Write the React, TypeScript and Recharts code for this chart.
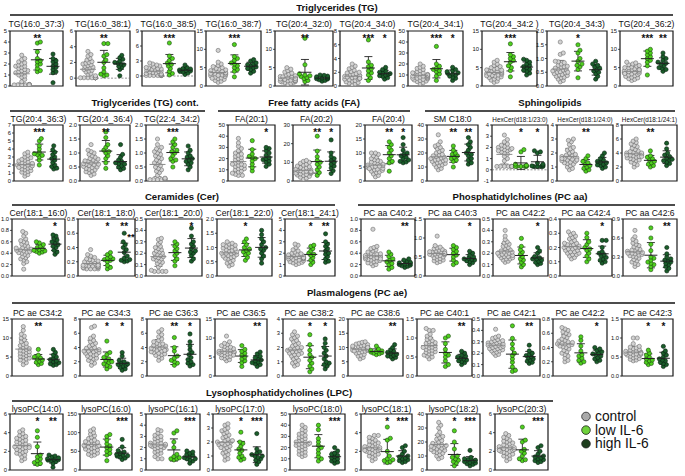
import React from "react";
import { ScatterChart, Scatter, XAxis, YAxis, ErrorBar, ReferenceArea, ReferenceLine } from "recharts";

const FONT = '"Liberation Sans", Arial, sans-serif';

// ---------- Triglycerides (TG) ----------
const TG_TITLES = ["TG(16:0_37:3)", "TG(16:0_38:1)", "TG(16:0_38:5)", "TG(16:0_38:7)", "TG(20:4_32:0)", "TG(20:4_34:0)", "TG(20:4_34:1)", "TG(20:4_34:2 )", "TG(20:4_34:3)", "TG(20:4_36:2)"];
const TG_TICKS = [[0, 1, 2, 3, 4, 5], [0, 2, 4, 6], [0, 3, 6, 9], [0, 5, 10, 15], [0, 5, 10, 15], [0, 2, 4, 6, 8], [0, 10, 20, 30, 40, 50], [0, 5, 10, 15], [0, 0.5, 1, 1.5, 2], [0, 5, 10, 15]];
const TG_CTRL = [
  [0.1, 0.1, 0.1, 0.1, 0.12, 0.1, 0.1, 0.1, 0.15, 0.1, 0.4, 0.6, 0.8, 0.9, 1.0, 1.1, 1.2, 1.2, 1.3, 1.4, 1.4, 1.5, 1.6, 1.7, 1.8, 1.8, 1.9, 2.0, 2.1, 2.2, 2.4, 2.5, 2.8],
  [0.05, 0.05, 0.05, 0.05, 0.05, 0.05, 0.05, 0.05, 0.05, 0.05, 0.3, 0.5, 0.6, 0.8, 0.9, 1.0, 1.1, 1.2, 1.3, 1.4, 1.5, 1.6, 1.7, 1.8, 1.9, 2.0, 2.1, 2.3, 2.5, 2.8, 3.0, 3.4],
  [0.1, 0.1, 0.1, 0.1, 0.1, 0.1, 0.1, 0.1, 0.3, 0.4, 0.5, 0.6, 0.7, 0.8, 0.9, 1.0, 1.1, 1.2, 1.3, 1.4, 1.5, 1.6, 1.7, 1.8, 2.0, 2.2, 2.4, 2.6],
  [1.0, 1.3, 1.5, 1.8, 2.0, 2.2, 2.4, 2.6, 2.8, 3.0, 3.1, 3.3, 3.5, 3.6, 3.8, 4.0, 4.2, 4.4, 4.6, 4.8, 5.0, 5.3, 5.6, 6.0, 6.5, 9.7, 2.1, 2.9, 3.4, 3.9],
  [0.5, 0.7, 0.9, 1.0, 1.1, 1.2, 1.3, 1.4, 1.5, 1.6, 1.7, 1.8, 1.9, 2.0, 2.1, 2.2, 2.3, 2.4, 2.6, 2.8, 3.0, 3.2, 3.5, 3.8, 4.2, 4.6, 5.0, 1.5, 2.0, 2.5],
  [0.2, 0.3, 0.4, 0.5, 0.6, 0.7, 0.8, 0.9, 1.0, 1.0, 1.1, 1.2, 1.2, 1.3, 1.4, 1.5, 1.5, 1.6, 1.7, 1.8, 1.9, 2.0, 2.1, 2.3, 2.5, 2.7, 2.9, 3.2, 1.1, 1.3],
  [2, 3, 4, 4.5, 5, 5.5, 6, 6.5, 7, 7.5, 8, 8.5, 9, 9.5, 10, 10.5, 11, 11.5, 12, 13, 14, 15, 16, 17, 18, 20, 7, 9, 10, 12],
  [1.0, 1.3, 1.6, 1.9, 2.1, 2.3, 2.5, 2.7, 2.9, 3.0, 3.2, 3.4, 3.5, 3.7, 3.9, 4.0, 4.2, 4.4, 4.6, 4.8, 5.0, 5.3, 5.6, 6.0, 6.5, 7.0, 2.8, 3.3, 3.8, 4.3],
  [0.15, 0.2, 0.25, 0.3, 0.32, 0.35, 0.38, 0.4, 0.42, 0.45, 0.48, 0.5, 0.52, 0.55, 0.58, 0.6, 0.62, 0.65, 0.68, 0.7, 0.72, 0.75, 0.8, 0.85, 0.88, 0.9, 1.15, 1.2, 1.6, 0.5],
  [1.5, 1.8, 2.0, 2.2, 2.4, 2.6, 2.8, 3.0, 3.1, 3.3, 3.5, 3.6, 3.8, 4.0, 4.1, 4.3, 4.5, 4.7, 4.9, 5.0, 5.2, 5.4, 5.6, 5.8, 6.0, 6.3, 6.5, 3.4, 3.9, 4.4],
];
const TG_LOW = [
  [1.3, 1.4, 1.6, 1.9, 2.0, 2.2, 2.3, 2.5, 3.1, 3.9, 4.0],
  [0.3, 0.4, 0.5, 0.8, 1.3, 2.0, 2.3, 2.8, 3.0, 4.4, 4.4],
  [0.2, 0.5, 0.9, 1.5, 2.0, 2.3, 2.6, 3.1, 3.5, 4.0, 6.6],
  [2.5, 4.0, 4.5, 5.0, 5.5, 6.0, 6.3, 7.0, 7.5, 8.0, 11.3],
  [1.2, 1.5, 2.0, 2.3, 2.6, 2.8, 3.0, 3.3, 5.8, 13.0],
  [0.8, 1.2, 1.6, 1.9, 2.2, 2.5, 2.8, 3.0, 3.5, 6.7],
  [5, 9, 11, 13, 14, 15, 16, 18, 20, 36],
  [2.5, 4.2, 5.0, 5.5, 6.5, 7.0, 7.5, 8.0, 8.5, 11.5],
  [0.3, 0.6, 0.7, 0.75, 0.8, 0.9, 1.0, 1.2, 1.3, 1.5],
  [3.0, 5.5, 6.5, 7.0, 7.5, 8.0, 8.5, 9.0, 9.5, 10.0],
];
const TG_HIGH = [
  [0.3, 1.2, 1.3, 1.5, 1.7, 1.8, 2.0, 2.2, 2.3, 2.5, 2.9],
  [0.3, 1.1, 1.4, 1.5, 1.7, 1.8, 1.9, 2.0, 2.2, 2.4, 2.6, 2.9],
  [0.3, 0.6, 0.8, 0.9, 1.0, 1.1, 1.2, 1.4, 1.5, 1.7, 2.2],
  [3.5, 4.0, 4.5, 4.8, 5.0, 5.2, 5.5, 5.8, 6.0, 6.3, 6.8, 7.2],
  [1.3, 1.5, 1.7, 1.9, 2.0, 2.1, 2.2, 2.4, 2.5, 2.7, 2.9, 3.0],
  [1.0, 1.2, 1.4, 1.5, 1.6, 1.7, 1.8, 1.9, 2.0, 2.2, 2.4, 2.7],
  [5, 7, 8, 9, 10, 11, 11.5, 12, 13, 14, 15, 17],
  [3.0, 3.5, 4.0, 4.3, 4.6, 5.0, 5.3, 5.6, 6.0, 6.5, 7.0, 7.3],
  [0.25, 0.35, 0.45, 0.5, 0.55, 0.6, 0.65, 0.7, 0.75, 0.8, 0.9],
  [4.0, 4.5, 4.8, 5.0, 5.5, 6.0, 6.2, 6.5, 7.0, 7.5, 8.0, 9.0],
];
const TG_STARS = [["**", ""], ["**", ""], ["***", ""], ["***", ""], ["**", ""], ["***", "*"], ["***", "*"], ["***", ""], ["*", ""], ["***", "**"]];

// ---------- Triglycerides cont. ----------
const TGC_TITLES = ["TG(20:4_36:3)", "TG(20:4_36:4)", "TG(22:4_34:2)"];
const TGC_TICKS = [[0, 1, 2, 3, 4, 5, 6, 7], [0, 0.5, 1, 1.5, 2], [0, 0.5, 1, 1.5, 2]];
const TGC_CTRL = [
  [0.6, 0.8, 1.0, 1.1, 1.2, 1.3, 1.4, 1.5, 1.6, 1.7, 1.8, 1.9, 2.0, 2.0, 2.1, 2.2, 2.3, 2.4, 2.5, 2.6, 2.7, 2.8, 2.9, 3.0, 3.2, 3.4, 3.6, 1.9, 2.2, 1.7],
  [0.2, 0.25, 0.3, 0.33, 0.36, 0.4, 0.42, 0.45, 0.48, 0.5, 0.52, 0.55, 0.58, 0.6, 0.62, 0.65, 0.68, 0.7, 0.72, 0.75, 0.78, 0.8, 0.85, 0.9, 0.95, 1.0, 1.05, 1.1, 1.3, 0.6],
  [0.05, 0.05, 0.05, 0.05, 0.05, 0.08, 0.08, 0.1, 0.2, 0.3, 0.35, 0.4, 0.45, 0.5, 0.55, 0.6, 0.65, 0.7, 0.75, 0.8, 0.85, 0.9, 0.95, 1.0, 1.05, 1.1, 1.15, 1.2, 1.3, 1.5],
];
const TGC_LOW = [
  [2.0, 2.6, 3.0, 3.2, 3.3, 3.4, 3.6, 4.0, 4.4, 5.0, 5.3],
  [0.45, 0.65, 0.8, 0.9, 1.0, 1.05, 1.1, 1.2, 1.3, 1.55, 1.75],
  [0.5, 0.7, 0.75, 0.8, 0.9, 1.0, 1.05, 1.1, 1.2, 1.3, 1.4, 1.5],
];
const TGC_HIGH = [
  [1.5, 1.6, 1.8, 2.0, 2.3, 2.6, 2.8, 3.0, 3.3, 3.6, 3.9, 4.4],
  [0.4, 0.45, 0.5, 0.55, 0.6, 0.62, 0.65, 0.7, 0.75, 0.85, 0.95, 1.3],
  [0.4, 0.5, 0.6, 0.65, 0.7, 0.75, 0.8, 0.85, 0.9, 1.0, 1.1, 1.25],
];
const TGC_STARS = [["***", ""], ["**", ""], ["***", ""]];

// ---------- Free fatty acids (FA) ----------
const FA_TITLES = ["FA(20:1)", "FA(20:2)", "FA(20:4)"];
const FA_TICKS = [[0, 10, 20, 30, 40, 50], [0, 10, 20, 30], [0, 5, 10, 15, 20]];
const FA_CTRL = [
  [5, 5, 6, 7, 8, 9, 10, 11, 11, 12, 13, 14, 14, 15, 16, 17, 18, 19, 20, 21, 22, 23, 24, 25, 27, 29, 31, 34, 38, 15],
  [1, 1.5, 2, 2.5, 3, 3.2, 3.5, 3.8, 4, 4.2, 4.5, 4.8, 5, 5.2, 5.5, 5.8, 6, 6.3, 6.6, 7, 7.3, 7.6, 8, 8.5, 9, 9.5, 10, 10.5, 11, 5],
  [1.5, 2, 2.5, 3, 3.2, 3.5, 3.8, 4, 4.2, 4.5, 4.8, 5, 5.2, 5.5, 5.7, 6, 6.2, 6.5, 6.8, 7, 7.3, 7.6, 8, 8.5, 9, 9.5, 10, 10, 5.3, 4.4],
];
const FA_LOW = [
  [9, 12, 15, 18, 20, 21, 22, 24, 28, 36],
  [3, 4.5, 6, 7.5, 9, 10, 11, 13, 16, 24],
  [3.5, 6.5, 7, 8, 9, 10, 11, 12, 13, 14],
];
const FA_HIGH = [
  [13, 15, 17, 18, 19, 20, 21, 23, 25, 27, 29, 30],
  [4, 5.5, 7, 8, 9, 10, 11, 12, 13, 15, 22],
  [6.5, 6.8, 7, 7.5, 8, 8.5, 9, 9.5, 10, 11, 13, 15.5],
];
const FA_STARS = [["", "*"], ["**", "*"], ["**", "*"]];

// ---------- Sphingolipids ----------
const SPH_TITLES = ["SM C18:0", "HexCer(d18:1/23:0)", "HexCer(d18:1/24:0)", "HexCer(d18:1/24:1)"];
const SPH_TICKS = [[0, 10, 20, 30, 40], [-1, 0, 1, 2, 3, 4], [0, 1, 2, 3, 4], [0, 2, 4, 6, 8]];
const SPH_CTRL = [
  [8, 9, 10, 11, 11.5, 12, 12.5, 13, 13.5, 14, 14.5, 15, 15.5, 16, 16.5, 17, 17.5, 18, 18.5, 19, 20, 21, 22, 23, 24, 25, 26, 28, 33, 15],
  [0.3, 0.3, 0.3, 0.3, 0.3, 0.3, 0.3, 0.3, 0.3, 0.8, 1.0, 1.2, 1.4, 1.5, 1.6, 1.7, 1.8, 1.8, 1.9, 2.0, 2.0, 2.1, 2.2, 2.3, 2.5, 2.7, 3.1, 1.7, 1.9],
  [0.8, 0.9, 1.0, 1.1, 1.2, 1.25, 1.3, 1.35, 1.4, 1.45, 1.5, 1.55, 1.6, 1.65, 1.7, 1.75, 1.8, 1.85, 1.9, 2.0, 2.1, 2.2, 2.3, 2.4, 2.6, 2.8, 2.9, 3.0, 1.5, 1.6],
  [2.0, 2.3, 2.5, 2.7, 2.9, 3.0, 3.1, 3.2, 3.3, 3.4, 3.5, 3.6, 3.7, 3.8, 3.9, 4.0, 4.1, 4.2, 4.3, 4.5, 4.7, 4.9, 5.1, 5.3, 5.5, 5.7, 6.0, 3.5, 3.7, 4.0],
];
const SPH_LOW = [
  [10, 14, 15, 16, 17, 18, 19, 20, 22, 25],
  [0.3, 0.3, 0.3, 0.3, 0.3, 0.35, 0.4, 0.5, 1.6, 1.8],
  [0.7, 0.8, 0.9, 1.0, 1.1, 1.2, 1.3, 1.4, 1.6, 1.8],
  [2.0, 2.2, 2.4, 2.6, 2.8, 3.0, 3.2, 3.4, 3.6, 4.3],
];
const SPH_HIGH = [
  [12, 13, 15, 16, 18, 19, 20, 22, 24, 26, 28, 31],
  [0.3, 0.3, 0.3, 0.3, 0.35, 0.4, 0.5, 0.6, 1.5, 1.6, 1.7],
  [0.9, 1.0, 1.1, 1.15, 1.2, 1.3, 1.35, 1.4, 1.5, 1.6, 1.8, 2.0],
  [2.2, 2.5, 2.7, 2.9, 3.0, 3.1, 3.3, 3.5, 3.7, 4.0, 4.6, 5.4],
];
const SPH_STARS = [["**", "**"], ["*", "*"], ["**", ""], ["**", ""]];

// ---------- Ceramides (Cer) ----------
const CER_TITLES = ["Cer(18:1_16:0)", "Cer(18:1_18:0)", "Cer(18:1_20:0)", "Cer(18:1_22:0)", "Cer(18:1_24:1)"];
const CER_TICKS = [[0, 0.2, 0.4, 0.6, 0.8, 1], [0, 0.2, 0.4, 0.6, 0.8], [0, 0.1, 0.2, 0.3, 0.4, 0.5], [0, 0.5, 1, 1.5, 2], [0, 1, 2, 3, 4, 5]];
const CER_CTRL = [
  [0.12, 0.22, 0.25, 0.28, 0.3, 0.32, 0.34, 0.36, 0.38, 0.4, 0.41, 0.42, 0.43, 0.44, 0.45, 0.46, 0.47, 0.48, 0.49, 0.5, 0.52, 0.54, 0.56, 0.58, 0.6, 0.62, 0.65, 0.7, 0.75, 0.78],
  [0.1, 0.1, 0.1, 0.1, 0.11, 0.12, 0.12, 0.13, 0.13, 0.14, 0.14, 0.15, 0.15, 0.16, 0.16, 0.17, 0.17, 0.18, 0.18, 0.19, 0.2, 0.21, 0.22, 0.23, 0.24, 0.26, 0.28, 0.3, 0.37, 0.15],
  [0.04, 0.04, 0.04, 0.04, 0.05, 0.08, 0.1, 0.11, 0.12, 0.13, 0.14, 0.15, 0.15, 0.16, 0.17, 0.17, 0.18, 0.19, 0.2, 0.2, 0.21, 0.22, 0.23, 0.24, 0.25, 0.26, 0.28, 0.3, 0.32, 0.33],
  [0.35, 0.4, 0.45, 0.5, 0.55, 0.6, 0.62, 0.65, 0.68, 0.7, 0.72, 0.75, 0.78, 0.8, 0.82, 0.85, 0.88, 0.9, 0.92, 0.95, 0.98, 1.0, 1.02, 1.05, 1.08, 1.1, 1.12, 1.15, 1.2, 0.8],
  [1.0, 1.1, 1.15, 1.2, 1.25, 1.3, 1.35, 1.4, 1.45, 1.5, 1.5, 1.55, 1.6, 1.6, 1.65, 1.7, 1.7, 1.75, 1.8, 1.85, 1.9, 1.95, 2.0, 2.1, 2.2, 2.3, 2.5, 2.7, 2.8, 1.6],
];
const CER_LOW = [
  [0.4, 0.42, 0.43, 0.44, 0.45, 0.46, 0.48, 0.5, 0.52, 0.55, 0.58, 0.6],
  [0.1, 0.12, 0.15, 0.2, 0.22, 0.23, 0.24, 0.25, 0.27, 0.3, 0.33],
  [0.09, 0.13, 0.15, 0.18, 0.2, 0.22, 0.24, 0.26, 0.28, 0.3],
  [0.55, 0.65, 0.75, 0.8, 0.85, 0.9, 0.95, 1.0, 1.1, 1.2, 1.3],
  [1.0, 1.2, 1.4, 1.6, 1.8, 1.9, 2.0, 2.2, 2.4, 2.6, 2.7],
];
const CER_HIGH = [
  [0.38, 0.42, 0.45, 0.5, 0.52, 0.55, 0.58, 0.6, 0.63, 0.66, 0.7, 0.72],
  [0.2, 0.21, 0.22, 0.23, 0.25, 0.28, 0.33, 0.37, 0.4, 0.44, 0.48, 0.6],
  [0.13, 0.15, 0.18, 0.2, 0.21, 0.22, 0.24, 0.26, 0.28, 0.3, 0.35, 0.42],
  [0.45, 0.6, 0.7, 0.8, 0.9, 0.95, 1.0, 1.1, 1.2, 1.3, 1.45, 1.6],
  [1.2, 1.3, 1.5, 1.7, 1.9, 2.0, 2.2, 2.4, 2.6, 2.8, 3.0, 3.7],
];
const CER_STARS = [["", "*"], ["*", "**"], ["", "*"], ["*", ""], ["*", "**"]];

// ---------- Phosphatidylcholines (PC aa) ----------
const PCAA_TITLES = ["PC aa C40:2", "PC aa C40:3", "PC aa C42:2", "PC aa C42:4", "PC aa C42:6"];
const PCAA_TICKS = [[0, 0.2, 0.4, 0.6, 0.8, 1], [0, 0.5, 1, 1.5], [0, 0.1, 0.2, 0.3, 0.4, 0.5], [0, 0.1, 0.2, 0.3, 0.4], [0, 0.3, 0.6, 0.9]];
const PCAA_CTRL = [
  [0.18, 0.2, 0.22, 0.23, 0.25, 0.26, 0.27, 0.28, 0.29, 0.3, 0.31, 0.32, 0.33, 0.34, 0.35, 0.36, 0.37, 0.38, 0.39, 0.4, 0.42, 0.44, 0.46, 0.48, 0.5, 0.52, 0.3, 0.33, 0.36, 0.82],
  [0.35, 0.38, 0.4, 0.42, 0.44, 0.46, 0.48, 0.5, 0.52, 0.54, 0.55, 0.56, 0.57, 0.58, 0.59, 0.6, 0.61, 0.62, 0.63, 0.64, 0.65, 0.66, 0.68, 0.7, 0.72, 0.74, 0.76, 0.8, 1.05, 0.6],
  [0.12, 0.13, 0.14, 0.15, 0.15, 0.16, 0.16, 0.17, 0.17, 0.18, 0.18, 0.19, 0.19, 0.2, 0.2, 0.21, 0.21, 0.22, 0.22, 0.23, 0.24, 0.25, 0.26, 0.27, 0.28, 0.29, 0.3, 0.32, 0.35, 0.4],
  [0.12, 0.13, 0.14, 0.15, 0.15, 0.16, 0.16, 0.17, 0.17, 0.18, 0.18, 0.19, 0.19, 0.2, 0.2, 0.21, 0.21, 0.22, 0.22, 0.23, 0.23, 0.24, 0.25, 0.26, 0.27, 0.28, 0.29, 0.3, 0.31, 0.2],
  [0.15, 0.18, 0.2, 0.22, 0.24, 0.26, 0.28, 0.3, 0.31, 0.32, 0.33, 0.34, 0.35, 0.36, 0.37, 0.38, 0.39, 0.4, 0.41, 0.42, 0.44, 0.46, 0.48, 0.5, 0.52, 0.55, 0.58, 0.62, 0.72, 0.36],
];
const PCAA_LOW = [
  [0.12, 0.15, 0.2, 0.22, 0.25, 0.28, 0.3, 0.34, 0.38, 0.42],
  [0.3, 0.35, 0.42, 0.5, 0.55, 0.6, 0.65, 0.7, 0.75, 0.8],
  [0.08, 0.1, 0.12, 0.14, 0.15, 0.17, 0.19, 0.21, 0.23, 0.26, 0.33],
  [0.1, 0.12, 0.14, 0.16, 0.18, 0.19, 0.2, 0.22, 0.24, 0.27, 0.3],
  [0.1, 0.15, 0.18, 0.2, 0.22, 0.25, 0.28, 0.3, 0.4, 0.5, 0.6, 0.76],
];
const PCAA_HIGH = [
  [0.15, 0.17, 0.18, 0.19, 0.2, 0.21, 0.22, 0.23, 0.24, 0.26, 0.28, 0.3],
  [0.3, 0.35, 0.38, 0.4, 0.42, 0.44, 0.45, 0.47, 0.5, 0.55, 0.6, 0.65],
  [0.1, 0.11, 0.12, 0.13, 0.14, 0.15, 0.15, 0.16, 0.17, 0.2, 0.22, 0.25],
  [0.09, 0.1, 0.11, 0.12, 0.13, 0.14, 0.15, 0.16, 0.17, 0.2, 0.25, 0.25],
  [0.08, 0.12, 0.15, 0.18, 0.2, 0.22, 0.24, 0.25, 0.27, 0.3, 0.35, 0.45],
];
const PCAA_STARS = [["", "**"], ["", "*"], ["", "*"], ["", "*"], ["", "**"]];

// ---------- Plasmalogens (PC ae) ----------
const PCAE_TITLES = ["PC ae C34:2", "PC ae C34:3", "PC ae C36:3", "PC ae C36:5", "PC ae C38:2", "PC ae C38:6", "PC ae C40:1", "PC ae C42:1", "PC ae C42:2", "PC ae C42:3"];
const PCAE_TICKS = [[0, 5, 10, 15], [0, 2, 4, 6, 8], [0, 2, 4, 6, 8], [0, 5, 10, 15], [0, 1, 2, 3, 4], [0, 5, 10, 15, 20], [0, 0.5, 1, 1.5], [0, 0.1, 0.2, 0.3, 0.4, 0.5], [0, 0.2, 0.4, 0.6, 0.8], [0, 0.5, 1, 1.5]];
const PCAE_CTRL = [
  [3.0, 3.5, 4.0, 4.2, 4.5, 4.7, 5.0, 5.2, 5.4, 5.6, 5.8, 6.0, 6.2, 6.4, 6.6, 6.8, 7.0, 7.2, 7.5, 7.8, 8.0, 8.3, 8.6, 9.0, 9.5, 10, 10.5, 11, 12, 13],
  [1.5, 1.8, 2.0, 2.2, 2.4, 2.5, 2.6, 2.8, 2.9, 3.0, 3.1, 3.2, 3.3, 3.4, 3.5, 3.6, 3.7, 3.8, 3.9, 4.0, 4.2, 4.4, 4.6, 4.8, 5.0, 5.3, 5.6, 6.8, 7.0, 3.5],
  [2.2, 2.5, 2.7, 2.9, 3.0, 3.1, 3.2, 3.3, 3.4, 3.5, 3.6, 3.7, 3.8, 3.9, 4.0, 4.1, 4.2, 4.3, 4.4, 4.5, 4.6, 4.8, 5.0, 5.2, 5.5, 5.8, 6.2, 6.5, 3.9, 3.6],
  [4.0, 4.3, 4.6, 4.8, 5.0, 5.2, 5.4, 5.6, 5.8, 6.0, 6.1, 6.2, 6.3, 6.4, 6.5, 6.6, 6.8, 7.0, 7.2, 7.4, 7.6, 7.8, 8.0, 8.3, 8.6, 9.0, 10.5, 6.0, 6.5, 5.5],
  [0.7, 0.8, 0.9, 1.0, 1.1, 1.2, 1.3, 1.4, 1.5, 1.6, 1.6, 1.7, 1.7, 1.8, 1.8, 1.9, 1.9, 2.0, 2.0, 2.1, 2.2, 2.3, 2.4, 2.5, 2.6, 2.7, 2.8, 2.9, 3.1, 1.5],
  [6.0, 6.5, 7.0, 7.3, 7.6, 8.0, 8.2, 8.5, 8.7, 9.0, 9.2, 9.4, 9.5, 9.6, 9.8, 10, 10.2, 10.4, 10.6, 10.8, 11, 11.2, 11.5, 11.8, 12, 9.0, 9.5, 10, 8.8, 10.5],
  [0.45, 0.5, 0.52, 0.55, 0.58, 0.6, 0.62, 0.64, 0.66, 0.68, 0.7, 0.72, 0.74, 0.76, 0.78, 0.8, 0.82, 0.84, 0.86, 0.88, 0.9, 0.93, 0.96, 1.0, 1.05, 1.1, 1.2, 1.2, 1.25, 0.75],
  [0.18, 0.19, 0.2, 0.21, 0.22, 0.22, 0.23, 0.23, 0.24, 0.24, 0.25, 0.25, 0.26, 0.26, 0.27, 0.27, 0.28, 0.28, 0.29, 0.29, 0.3, 0.3, 0.31, 0.31, 0.32, 0.33, 0.34, 0.35, 0.41, 0.27],
  [0.2, 0.22, 0.25, 0.28, 0.3, 0.32, 0.34, 0.36, 0.38, 0.4, 0.41, 0.42, 0.43, 0.44, 0.45, 0.46, 0.47, 0.48, 0.49, 0.5, 0.52, 0.54, 0.56, 0.58, 0.6, 0.62, 0.64, 0.66, 0.68, 0.45],
  [0.4, 0.42, 0.44, 0.46, 0.48, 0.5, 0.52, 0.54, 0.55, 0.56, 0.57, 0.58, 0.59, 0.6, 0.61, 0.62, 0.63, 0.64, 0.65, 0.66, 0.68, 0.7, 0.72, 0.74, 0.76, 0.78, 0.85, 1.0, 1.0, 0.6],
];
const PCAE_LOW = [
  [3.0, 3.3, 3.6, 3.9, 4.2, 4.5, 4.8, 5.0, 5.5, 7.0],
  [1.0, 1.3, 1.5, 1.7, 1.9, 2.0, 2.2, 2.4, 2.6, 3.0, 3.3, 4.9],
  [1.5, 1.8, 2.0, 2.2, 2.5, 2.8, 3.5, 4.0, 5.4],
  [2.5, 3.5, 4.0, 4.5, 5.0, 5.5, 6.0, 6.5, 7.0, 8.0],
  [0.3, 0.5, 0.7, 0.9, 1.1, 1.3, 1.5, 1.8, 2.2, 2.9],
  [7.5, 7.8, 8.0, 8.2, 8.4, 8.6, 8.8, 9.0, 9.5, 10.5],
  [0.25, 0.3, 0.4, 0.5, 0.55, 0.6, 0.7, 0.85, 1.0, 1.05],
  [0.04, 0.05, 0.08, 0.12, 0.15, 0.18, 0.2, 0.24, 0.28, 0.33, 0.44],
  [0.18, 0.2, 0.22, 0.25, 0.28, 0.3, 0.35, 0.42, 0.5, 0.55],
  [0.3, 0.33, 0.36, 0.4, 0.42, 0.45, 0.5, 0.55, 0.6, 0.68],
];
const PCAE_HIGH = [
  [2.8, 3.0, 3.2, 3.5, 3.8, 4.0, 4.3, 4.6, 5.0, 5.5, 6.2, 7.0],
  [0.8, 1.0, 1.2, 1.4, 1.5, 1.6, 1.7, 1.8, 2.0, 2.2, 2.8, 3.3],
  [1.4, 1.6, 1.8, 2.0, 2.3, 2.6, 3.0, 3.3, 3.7, 4.2, 4.8, 5.9],
  [2.5, 3.0, 3.2, 3.5, 3.7, 4.0, 4.2, 4.5, 4.8, 5.2, 5.8, 6.3],
  [0.5, 0.7, 0.8, 0.9, 1.0, 1.2, 1.4, 1.6, 1.8, 2.0, 2.3, 2.6],
  [6.0, 6.5, 6.8, 7.0, 7.3, 7.6, 8.0, 8.3, 8.7, 9.2, 10, 11],
  [0.3, 0.35, 0.38, 0.4, 0.42, 0.45, 0.47, 0.5, 0.52, 0.55, 0.6, 0.65],
  [0.11, 0.12, 0.13, 0.14, 0.15, 0.16, 0.17, 0.18, 0.19, 0.2, 0.22, 0.27],
  [0.2, 0.22, 0.24, 0.26, 0.28, 0.3, 0.31, 0.32, 0.34, 0.36, 0.38, 0.4],
  [0.25, 0.3, 0.33, 0.36, 0.4, 0.42, 0.45, 0.5, 0.55, 0.6, 0.66, 0.78],
];
const PCAE_STARS = [["**", ""], ["*", "*"], ["**", "*"], ["", "**"], ["*", "*"], ["", "**"], ["", "**"], ["", "**"], ["", "*"], ["*", "*"]];

// ---------- Lysophosphatidylcholines (LPC) ----------
const LPC_TITLES = ["lysoPC(14:0)", "lysoPC(16:0)", "lysoPC(16:1)", "lysoPC(17:0)", "lysoPC(18:0)", "lysoPC(18:1)", "lysoPC(18:2)", "lysoPC(20:3)"];
const LPC_TICKS = [[0, 2, 4, 6], [0, 50, 100, 150], [0, 1, 2, 3, 4, 5], [0, 1, 2, 3, 4], [0, 10, 20, 30, 40, 50], [0, 2, 4, 6], [0, 10, 20, 30, 40], [0, 2, 4, 6]];
const LPC_CTRL = [
  [1.0, 1.2, 1.4, 1.6, 1.7, 1.8, 1.9, 2.0, 2.1, 2.2, 2.3, 2.4, 2.5, 2.5, 2.6, 2.7, 2.8, 2.9, 3.0, 3.1, 3.2, 3.3, 3.4, 3.5, 3.6, 3.7, 3.9, 4.1, 4.3, 2.4],
  [38, 40, 42, 45, 48, 50, 52, 54, 56, 58, 60, 62, 63, 64, 65, 66, 68, 70, 72, 74, 76, 78, 80, 84, 88, 92, 96, 100, 105, 110],
  [1.0, 1.0, 1.2, 1.4, 1.5, 1.6, 1.7, 1.8, 1.9, 2.0, 2.0, 2.1, 2.1, 2.2, 2.2, 2.3, 2.3, 2.4, 2.4, 2.5, 2.6, 2.7, 2.8, 2.9, 3.0, 3.1, 3.3, 3.5, 3.6, 2.2],
  [0.7, 0.8, 1.0, 1.1, 1.2, 1.3, 1.4, 1.5, 1.6, 1.7, 1.8, 1.8, 1.9, 1.9, 2.0, 2.0, 2.1, 2.2, 2.3, 2.4, 2.5, 2.6, 2.7, 2.8, 2.9, 3.0, 3.2, 3.3, 1.6, 2.1],
  [12, 13, 14, 15, 16, 17, 18, 19, 20, 21, 22, 22, 23, 23, 24, 24, 25, 26, 27, 28, 29, 30, 31, 32, 33, 35, 36, 38, 40, 25],
  [1.0, 1.2, 1.4, 1.5, 1.6, 1.7, 1.8, 1.9, 2.0, 2.0, 2.1, 2.2, 2.2, 2.3, 2.3, 2.4, 2.5, 2.6, 2.7, 2.8, 2.9, 3.0, 3.1, 3.2, 3.4, 3.5, 3.7, 3.7, 2.4, 2.1],
  [8, 9, 10, 11, 12, 12.5, 13, 13.5, 14, 14.5, 15, 15.5, 16, 16.5, 17, 17.5, 18, 18.5, 19, 20, 21, 22, 23, 24, 25, 27, 30, 32, 34, 17],
  [1.0, 1.2, 1.4, 1.5, 1.6, 1.7, 1.8, 1.9, 2.0, 2.0, 2.1, 2.2, 2.2, 2.3, 2.3, 2.4, 2.5, 2.6, 2.7, 2.8, 2.9, 3.0, 3.1, 3.2, 3.4, 3.5, 3.7, 3.9, 2.4, 2.1],
];
const LPC_LOW = [
  [0.6, 0.7, 0.8, 1.0, 1.2, 1.4, 1.6, 2.5, 3.5, 4.2],
  [25, 40, 45, 50, 55, 60, 65, 70, 80, 90, 95],
  [0.9, 1.0, 1.0, 1.1, 1.2, 1.4, 2.0, 2.5, 3.3, 3.5],
  [0.7, 0.8, 0.9, 1.0, 1.2, 1.4, 1.5, 1.7, 1.9, 2.0, 2.7],
  [8, 10, 12, 15, 18, 20, 22, 25, 28, 36, 40],
  [0.8, 0.9, 1.0, 1.1, 1.2, 1.5, 2.0, 3.2, 3.4, 4.6],
  [3, 5, 6, 7, 8, 9, 10, 15, 20, 28],
  [1.0, 1.1, 1.2, 1.5, 1.8, 2.0, 2.2, 3.0, 3.2, 4.6],
];
const LPC_HIGH = [
  [0.3, 0.7, 0.9, 1.0, 1.05, 1.1, 1.15, 1.2, 1.3, 1.4, 1.5, 1.6],
  [28, 32, 35, 37, 38, 40, 42, 45, 48, 52, 62, 82],
  [0.6, 0.8, 0.9, 1.0, 1.0, 1.1, 1.2, 1.3, 1.4, 1.5, 1.6, 1.7],
  [0.4, 0.6, 0.7, 0.8, 0.9, 1.0, 1.0, 1.1, 1.2, 1.3, 1.5, 2.6],
  [6, 7, 8, 9, 10, 11, 12, 13, 14, 15, 17, 20],
  [0.8, 0.9, 1.0, 1.1, 1.2, 1.3, 1.4, 1.5, 1.7, 2.0, 2.4, 2.6],
  [3, 4, 4.5, 5, 5.5, 6, 6.5, 7, 7.5, 8, 9, 14],
  [0.8, 0.9, 1.0, 1.1, 1.2, 1.3, 1.4, 1.5, 1.7, 2.0, 2.4, 2.6],
];
const LPC_STARS = [["*", "**"], ["", "***"], ["", "***"], ["*", "***"], ["", "***"], ["*", "***"], ["*", "***"], ["", "***"]];

// axis floors below the first tick, and panels with a dashed zero line
const Y_FLOOR: Record<string, number> = { "TG(16:0_38:1)": -1, "TG(16:0_38:5)": -2 };
const ZERO_LINE = ["TG(16:0_38:1)", "TG(16:0_38:5)", "HexCer(d18:1/23:0)"];

const LEGEND_LABELS = ["control", "low IL-6", "high IL-6"];
const FILLS = ["#d2d2d2", "#4fd01e", "#1b5e2b"];
const STROKES = ["#6e6e6e", "#1d4a10", "#0a2410"];
const LEGEND_FILLS = ["#a9a9a9", "#6fd23c", "#1e3f1e"];

// ---------- layout ----------
const ROW_TOP = [31, 125, 219, 319, 414];
const ROW_BOTTOM = [86, 181, 276, 376, 470];
const ROW_TITLE_Y = [24, 119, 213, 313, 409];

const SECTIONS = [
  { row: 0, titles: TG_TITLES, ticks: TG_TICKS, ctrl: TG_CTRL, low: TG_LOW, high: TG_HIGH, stars: TG_STARS,
    boxes: [[10, 63], [76, 130], [142, 195], [206, 261], [275, 333], [340, 395], [408, 463], [482, 537], [547, 607], [620, 673]] },
  { row: 1, titles: TGC_TITLES, ticks: TGC_TICKS, ctrl: TGC_CTRL, low: TGC_LOW, high: TGC_HIGH, stars: TGC_STARS,
    boxes: [[14, 63], [80, 130], [146, 198]] },
  { row: 1, titles: FA_TITLES, ticks: FA_TICKS, ctrl: FA_CTRL, low: FA_LOW, high: FA_HIGH, stars: FA_STARS,
    boxes: [[228, 275], [293, 340], [365, 412]] },
  { row: 1, titles: SPH_TITLES, ticks: SPH_TICKS, ctrl: SPH_CTRL, low: SPH_LOW, high: SPH_HIGH, stars: SPH_STARS,
    boxes: [[427, 478], [492, 548], [557, 613], [622, 677]] },
  { row: 2, titles: CER_TITLES, ticks: CER_TICKS, ctrl: CER_CTRL, low: CER_LOW, high: CER_HIGH, stars: CER_STARS,
    boxes: [[12, 65], [78, 135], [146, 202], [217, 272], [285, 335]] },
  { row: 2, titles: PCAA_TITLES, ticks: PCAA_TICKS, ctrl: PCAA_CTRL, low: PCAA_LOW, high: PCAA_HIGH, stars: PCAA_STARS,
    boxes: [[361, 415], [425, 480], [493, 548], [560, 612], [623, 677]] },
  { row: 3, titles: PCAE_TITLES, ticks: PCAE_TICKS, ctrl: PCAE_CTRL, low: PCAE_LOW, high: PCAE_HIGH, stars: PCAE_STARS,
    boxes: [[12, 63], [80, 132], [147, 200], [215, 267], [283, 335], [348, 403], [417, 472], [483, 540], [553, 607], [622, 673]] },
  { row: 4, titles: LPC_TITLES, ticks: LPC_TICKS, ctrl: LPC_CTRL, low: LPC_LOW, high: LPC_HIGH, stars: LPC_STARS,
    boxes: [[10, 63], [80, 132], [146, 200], [213, 267], [290, 345], [361, 412], [427, 480], [495, 548]] },
];

const HEADERS = [
  { text: "Triglycerides (TG)", cx: 337, y: 7, x1: 10, x2: 673, ly: 15 },
  { text: "Triglycerides (TG) cont.", cx: 145, y: 102, x1: 10, x2: 205, ly: 111 },
  { text: "Free fatty acids (FA)", cx: 314, y: 102, x1: 218, x2: 410, ly: 111 },
  { text: "Sphingolipids", cx: 550, y: 102, x1: 425, x2: 675, ly: 111 },
  { text: "Ceramides (Cer)", cx: 182, y: 196, x1: 12, x2: 335, ly: 205 },
  { text: "Phosphatidylcholines (PC aa)", cx: 520, y: 196, x1: 358, x2: 675, ly: 205 },
  { text: "Plasmalogens (PC ae)", cx: 357, y: 292, x1: 12, x2: 675, ly: 303 },
  { text: "Lysophosphatidycholines (LPC)", cx: 279, y: 392, x1: 12, x2: 553, ly: 401 },
];

const X_DOMAIN: [number, number] = [-0.75, 2.64];
const AX_W = 16;
const PAD = 4;
const R = 2.1;

const mean = (a: number[]) => a.reduce((s, v) => s + v, 0) / a.length;
const sd = (a: number[]) => {
  const m = mean(a);
  return Math.sqrt(a.reduce((s, v) => s + (v - m) ** 2, 0) / (a.length - 1));
};

// simple beeswarm: pixel x-offsets so dots don't sit right on top of each other
function swarm(vals: number[], toPx: (v: number) => number, maxOff: number): number[] {
  const order = vals.map((_, i) => i).sort((a, b) => vals[a] - vals[b]);
  const placed: { x: number; y: number }[] = [];
  const out = new Array(vals.length).fill(0);
  const d = 2 * R * 0.72;
  for (const i of order) {
    const y = toPx(vals[i]);
    let chosen = 0;
    for (let k = 0; k < 30; k++) {
      const cand = k === 0 ? 0 : (k % 2 ? 1 : -1) * Math.ceil(k / 2) * 1.0;
      chosen = cand;
      if (placed.every((p) => (p.x - cand) ** 2 + (p.y - y) ** 2 >= d * d)) break;
    }
    chosen = Math.max(-maxOff, Math.min(maxOff, chosen));
    placed.push({ x: chosen, y });
    out[i] = chosen;
  }
  return out;
}

type PanelProps = {
  title: string;
  ticks: number[];
  groups: number[][];
  stars: string[];
  box: number[];
  row: number;
};

function Panel({ title, ticks, groups, stars, box, row }: PanelProps) {
  const W = box[1] - box[0];
  const H = ROW_BOTTOM[row] - ROW_TOP[row];
  const yMin = Y_FLOOR[title] ?? ticks[0];
  const yMax = ticks[ticks.length - 1];
  const unitPerPx = (X_DOMAIN[1] - X_DOMAIN[0]) / W;
  const toPx = (v: number) => ((v - yMin) / (yMax - yMin)) * H;
  const pts = groups.map((vals, g) => {
    const offs = swarm(vals, toPx, g === 0 ? 7.5 : 5.5);
    return vals.map((v, i) => ({ x: g + offs[i] * unitPerPx, y: v }));
  });
  const stats = groups.map((vals, g) => [{ x: g, y: mean(vals), err: sd(vals) }]);
  const starPts = stars.map((s, i) => ({ x: i + 1, y: yMax, s })).filter((d) => d.s);
  const dec = ticks.some((t) => !Number.isInteger(t)) ? 1 : 0;

  return (
    <div style={{ position: "absolute", left: box[0] - AX_W, top: ROW_TOP[row] - PAD }}>
      <ScatterChart width={W + AX_W + PAD} height={H + 2 * PAD} margin={{ top: PAD, right: PAD, bottom: PAD, left: 0 }}>
        <XAxis type="number" dataKey="x" domain={X_DOMAIN} hide allowDataOverflow />
        <YAxis
          type="number"
          dataKey="y"
          domain={[yMin, yMax]}
          ticks={ticks}
          interval={0}
          allowDataOverflow
          width={AX_W}
          axisLine={false}
          tickSize={2}
          tickMargin={1}
          tickLine={{ stroke: "#222", strokeWidth: 0.8 }}
          tick={{ fontSize: 5.8, fill: "#111", fontFamily: FONT }}
          tickFormatter={(v: number) => v.toFixed(dec)}
        />
        <ReferenceArea x1={X_DOMAIN[0]} x2={X_DOMAIN[1]} y1={yMin} y2={yMax} fill="none" stroke="#1a1a1a" strokeWidth={1.2} ifOverflow="visible" />
        {ZERO_LINE.includes(title) && <ReferenceLine y={0} stroke="#666" strokeWidth={0.7} strokeDasharray="2 1.5" />}
        {pts.map((data, g) => (
          <Scatter
            key={g}
            data={data}
            isAnimationActive={false}
            shape={(p: any) => <circle cx={p.cx} cy={p.cy} r={R} fill={FILLS[g]} stroke={STROKES[g]} strokeWidth={0.6} />}
          />
        ))}
        {stats.map((data, g) => (
          <Scatter
            key={"m" + g}
            data={data}
            isAnimationActive={false}
            shape={(p: any) => (
              <line x1={p.cx - (g === 0 ? 8 : 6.5)} x2={p.cx + (g === 0 ? 8 : 6.5)} y1={p.cy} y2={p.cy} stroke={g === 0 ? "#8a8a8a" : "#222"} strokeWidth={1} />
            )}
          >
            <ErrorBar dataKey="err" direction="y" width={4} stroke={g === 0 ? "#666" : "#222"} strokeWidth={0.9} />
          </Scatter>
        ))}
        <Scatter
          data={starPts}
          isAnimationActive={false}
          shape={(p: any) => (
            <text x={p.cx} y={p.cy + 10.5} textAnchor="middle" fontSize={10} fontWeight="bold" fontFamily={FONT} fill="#111">
              {p.payload.s}
            </text>
          )}
        />
      </ScatterChart>
    </div>
  );
}

export default function App() {
  const panels: PanelProps[] = [];
  SECTIONS.forEach((s) =>
    s.titles.forEach((t, i) =>
      panels.push({ title: t, ticks: s.ticks[i], groups: [s.ctrl[i], s.low[i], s.high[i]], stars: s.stars[i], box: s.boxes[i], row: s.row })
    )
  );

  return (
    <div style={{ position: "absolute", left: 0, top: 0, width: 685, height: 476, background: "#fff" }}>
      {panels.map((p) => (
        <Panel key={p.title} {...p} />
      ))}
      {/* all headings, panel titles and the legend as one svg overlay */}
      <svg width={685} height={476} style={{ position: "absolute", left: 0, top: 0, pointerEvents: "none" }} fontFamily={FONT}>
        {HEADERS.map((h) => (
          <g key={h.text}>
            <text x={h.cx} y={h.y + 3.5} textAnchor="middle" fontSize={9.6} fontWeight="bold" fill="#111">
              {h.text}
            </text>
            <line x1={h.x1} x2={h.x2} y1={h.ly} y2={h.ly} stroke="#111" strokeWidth={1.6} />
          </g>
        ))}
        {panels.map((p) => (
          <text
            key={p.title}
            x={(p.box[0] + p.box[1]) / 2}
            y={ROW_TITLE_Y[p.row] + 3}
            textAnchor="middle"
            fontSize={p.title.startsWith("HexCer") ? 6.3 : 8.6}
            fill="#111"
          >
            {p.title}
          </text>
        ))}
        <text x={131} y={240} textAnchor="middle" fontSize={9.5} fontWeight="bold" fill="#111">
          **
        </text>
        {LEGEND_LABELS.map((label, i) => (
          <g key={label}>
            <circle cx={586} cy={416.5 + i * 13.6} r={4.3} fill={LEGEND_FILLS[i]} stroke="#222" strokeWidth={0.8} />
            <text x={595} y={421 + i * 13.6} fontSize={13.8} fill="#111">
              {label}
            </text>
          </g>
        ))}
      </svg>
    </div>
  );
}
